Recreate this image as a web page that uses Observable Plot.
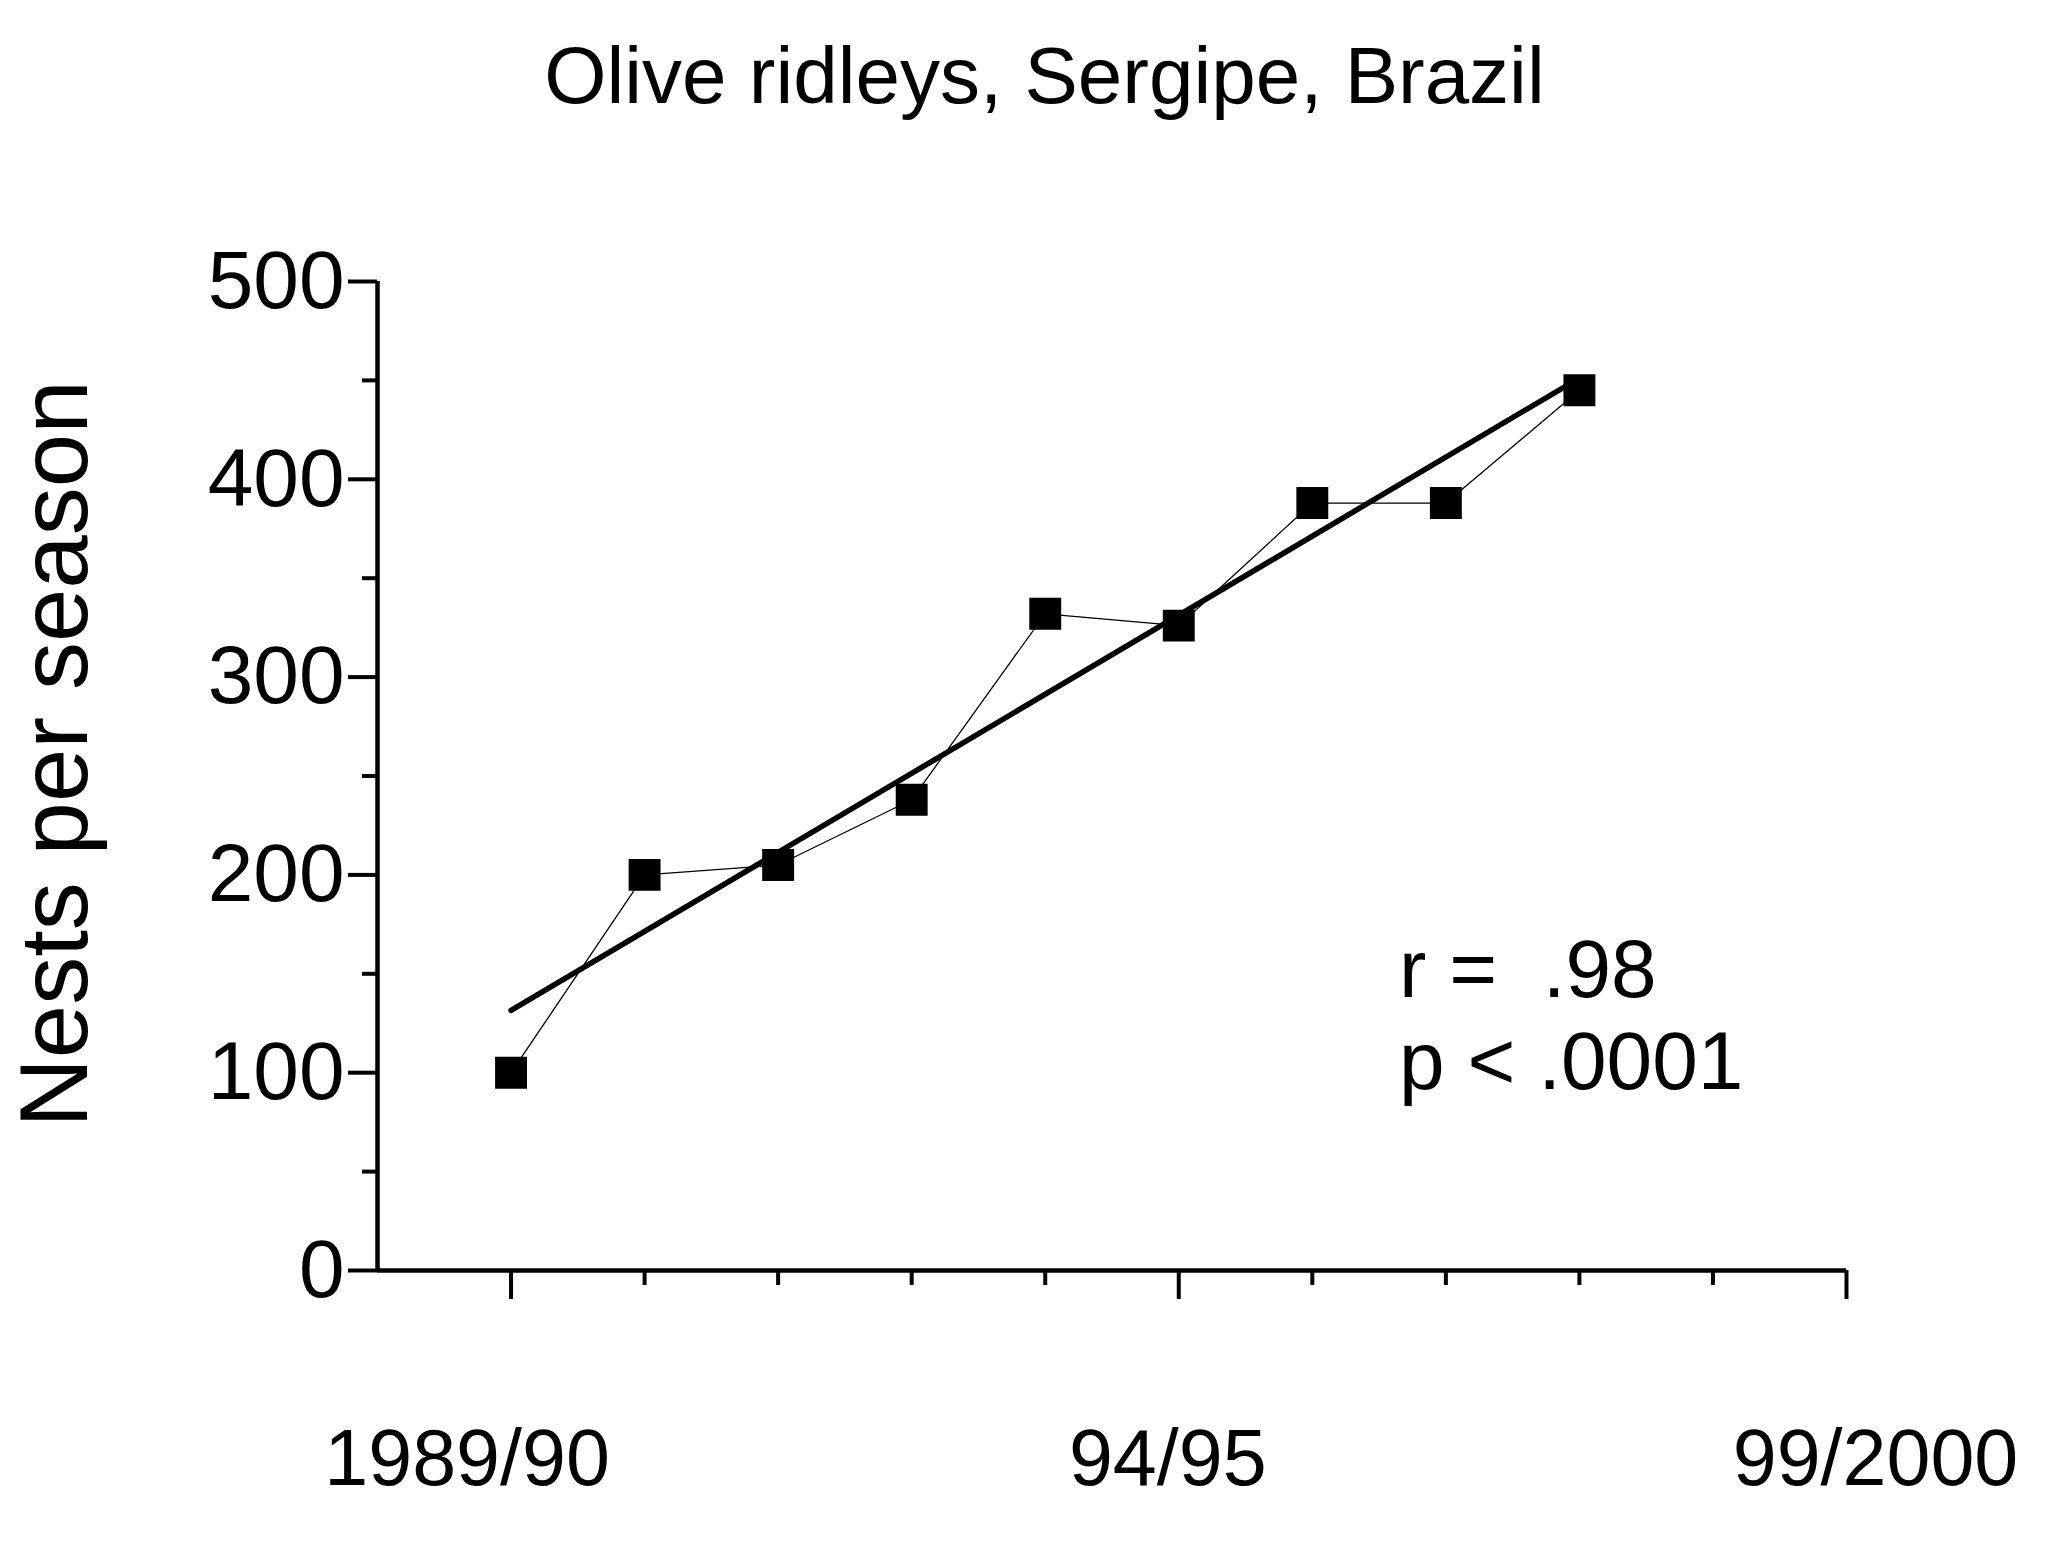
<!DOCTYPE html>
<html>
<head>
<meta charset="utf-8">
<script src="https://cdn.jsdelivr.net/npm/d3@7"></script>
<script src="https://cdn.jsdelivr.net/npm/@observablehq/plot@0.6"></script>
<style>
  html, body { margin: 0; padding: 0; background: #fff; }
  #wrap { width: 2071px; height: 1560px; font-family: "Liberation Sans", Arial, sans-serif; color: #000; }
  #title { height: 140px; box-sizing: border-box; padding-top: 36px; padding-left: 18px; font-size: 80px; line-height: 1; text-align: center; white-space: nowrap; }
</style>
</head>
<body>
<div id="wrap">
  <div id="title">Olive ridleys, Sergipe, Brazil</div>
  <div id="chart"></div>
</div>
<script>
// ---- data ----
const seasonIndex = [0, 1, 2, 3, 4, 5, 6, 7, 8];
const seasonLabels = ["1989/90", "90/91", "91/92", "92/93", "93/94", "94/95", "95/96", "96/97", "97/98"];
const nests = [100, 200, 205, 238, 332, 326, 388, 388, 445];

const xTickValues = [0, 5, 10];
const xTickLabels = ["1989/90", "94/95", "99/2000"];
const xMinorTicks = [1, 2, 3, 4, 6, 7, 8, 9];
const yTickValues = [0, 100, 200, 300, 400, 500];
const yMinorTicks = [50, 150, 250, 350, 450];
const xDomain = [-1, 10];
const yDomain = [0, 500];
const annotation = "r =\u00a0\u00a0.98\np < .0001";

const data = seasonIndex.map((x, i) => ({x, season: seasonLabels[i], nests: nests[i]}));

// label nudges (style only)
const labelNudge = [-44, -11, 29];

const font = "Liberation Sans, Arial, sans-serif";

const plot = Plot.plot({
  width: 2071,
  height: 1420,
  marginTop: 141,
  marginBottom: 290,
  marginLeft: 377,
  marginRight: 225,
  style: {fontFamily: font, background: "white", color: "black"},
  x: {domain: xDomain, axis: null},
  y: {domain: yDomain, axis: null},
  marks: [
    // axes lines
    Plot.ruleY([yDomain[0]], {stroke: "black", strokeWidth: 4.5}),
    Plot.ruleX([xDomain[0]], {stroke: "black", strokeWidth: 4.5}),
    // y axis ticks
    Plot.axisY({ticks: yTickValues, tickSize: 29, tickPadding: 4, fontSize: 82, strokeWidth: 4, label: null, tickFormat: d => String(d)}),
    Plot.axisY({ticks: yMinorTicks, tickSize: 15, strokeWidth: 4, label: null, tickFormat: () => ""}),
    // x axis ticks
    Plot.axisX({ticks: xTickValues, tickSize: 29, strokeWidth: 4, label: null, tickFormat: () => ""}),
    Plot.axisX({ticks: xMinorTicks, tickSize: 15, strokeWidth: 4, label: null, tickFormat: () => ""}),
    // x tick labels
    ...xTickValues.map((v, i) => Plot.text([v], {
      x: d => d, text: () => xTickLabels[i], frameAnchor: "bottom", lineAnchor: "top",
      dy: 158, dx: labelNudge[i], fontSize: 79, fill: "black"
    })),
    // y axis title
    Plot.text(["Nests per season"], {text: d => d, frameAnchor: "left", textAnchor: "middle", rotate: -90, dx: -321, dy: -22, fontSize: 96, fill: "black"}),
    // data
    Plot.line(data, {x: "x", y: "nests", stroke: "black", strokeWidth: 1.3}),
    Plot.linearRegressionY(data, {x: "x", y: "nests", ci: 0, stroke: "black", strokeWidth: 5.5}),
    Plot.dot(data, {x: "x", y: "nests", symbol: "square", r: 18, fill: "black", stroke: "none"}),
    // annotation
    Plot.text([annotation], {text: d => d, x: () => 6.65, y: () => 171, textAnchor: "start", lineAnchor: "top", lineHeight: 1.12, fontSize: 82, fill: "black"})
  ]
});

document.getElementById("chart").appendChild(plot);
</script>
</body>
</html>
